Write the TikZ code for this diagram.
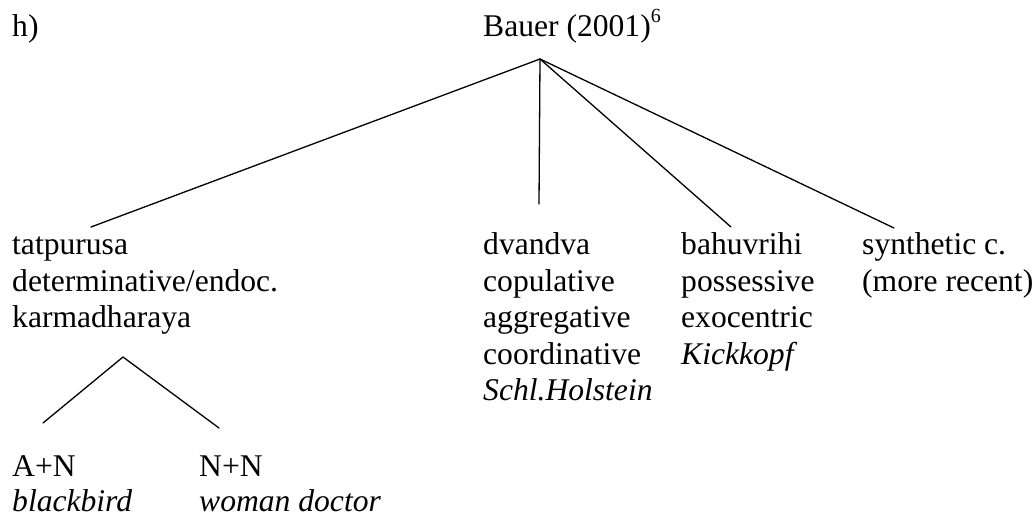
\documentclass[tikz,border=0pt]{standalone}
\usepackage{fontspec}
\setmainfont{Liberation Serif}
\begin{document}
\begin{tikzpicture}[x=1pt,y=-1pt,
  lbl/.style={inner sep=0pt, anchor=base west, font=\fontsize{31.6}{36.5}\selectfont},
  itl/.style={lbl, font=\fontsize{31.6}{36.5}\selectfont\itshape},
  edge/.style={line width=1.3pt, line cap=round}]
\useasboundingbox (0,0) rectangle (1036,517);
% header
\node[lbl] (h) at (12,36) {h)};
\node[lbl] (bauer) at (483,36) {Bauer (2001)\raisebox{0.42em}{\fontsize{20}{20}\selectfont 6}};
\coordinate (apex) at (540,59);
% column 1
\node[lbl] (tat) at (12,254.5) {tatpurusa};
\node[lbl] (det) at (12,291) {determinative/endoc.};
\node[lbl] (kar) at (12,327.5) {karmadharaya};
\coordinate (tatend) at (91,227);
% sub-tree
\coordinate (subapex) at (123,357);
\coordinate (anend) at (43,423);
\coordinate (nnend) at (219,428);
\node[lbl] (an) at (12,476) {A+N};
\node[itl] (bb) at (12,511) {blackbird};
\node[lbl] (nn) at (199,476) {N+N};
\node[itl] (wd) at (199,511) {woman doctor};
% column 2
\node[lbl] (dva) at (483,254.5) {dvandva};
\node[lbl] (cop) at (483,291) {copulative};
\node[lbl] (agg) at (483,327.5) {aggregative};
\node[lbl] (coo) at (483,364) {coordinative};
\node[itl] (sh) at (483,400.5) {Schl.Holstein};
\coordinate (dvaend) at (539,204);
% column 3
\node[lbl] (bah) at (681,254.5) {bahuvrihi};
\node[lbl] (pos) at (681,291) {possessive};
\node[lbl] (exo) at (681,327.5) {exocentric};
\node[itl] (kk) at (681,364) {Kickkopf};
\coordinate (bahend) at (731,227);
% column 4
\node[lbl] (syn) at (862,254.5) {synthetic c.};
\node[lbl] (rec) at (862,291) {(more recent)};
\coordinate (synend) at (894,228);
% connectors
\draw[edge] (apex) -- (tatend);
\draw[edge] (apex) -- (dvaend);
\draw[edge] (apex) -- (bahend);
\draw[edge] (apex) -- (synend);
\draw[edge] (anend) -- (subapex) -- (nnend);
\end{tikzpicture}
\end{document}
